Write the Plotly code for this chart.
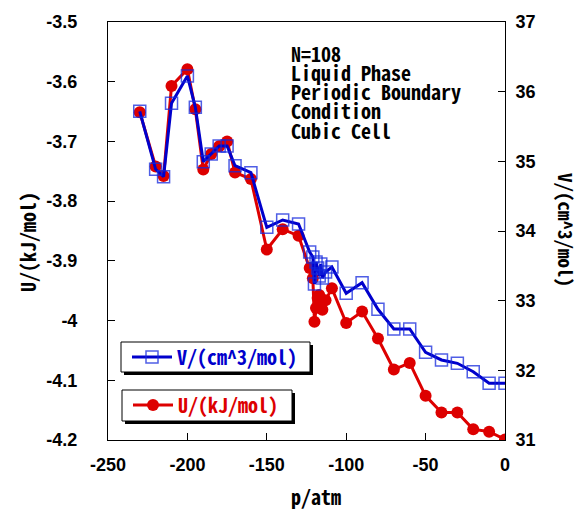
import plotly.graph_objects as go

# ---- data ----
p_atm = [-230, -220, -215, -210, -200, -195, -190, -185, -180, -175, -170, -160,
         -150, -140, -130,
         -123, -121, -120, -119, -118, -117, -116, -115, -113, -109,
         -100, -90, -80, -70, -60, -50, -40, -30, -20, -10, 0]
U_kJ = [-3.651, -3.742, -3.758, -3.607, -3.579, -3.646, -3.747, -3.721, -3.708, -3.700, -3.752, -3.763,
        -3.881, -3.847, -3.858,
        -3.912, -3.929, -4.002, -3.979, -3.962, -3.957, -3.974, -3.982, -3.966, -3.946,
        -4.004, -3.985, -4.030, -4.082, -4.071, -4.126, -4.154, -4.154, -4.182, -4.186, -4.199]
V_cm3 = [35.718, 34.886, 34.780, 35.833, 36.225, 35.776, 34.995, 35.105, 35.220, 35.220, 34.937, 34.837,
         34.053, 34.158, 34.100,
         33.699, 33.627, 33.239, 33.555, 33.469, 33.354, 33.527, 33.326, 33.412, 33.483,
         33.106, 33.258, 32.876, 32.593, 32.593, 32.259, 32.149, 32.101, 31.980, 31.814, 31.814]

x_ticks = [-250, -200, -150, -100, -50, 0]
x_ticktext = ["-250", "-200", "-150", "-100", "-50", "0"]
u_ticks = [-3.5, -3.6, -3.7, -3.8, -3.9, -4.0, -4.1, -4.2]
u_ticktext = ["-3.5", "-3.6", "-3.7", "-3.8", "-3.9", "-4", "-4.1", "-4.2"]
v_ticks = [31, 32, 33, 34, 35, 36, 37]
v_ticktext = ["31", "32", "33", "34", "35", "36", "37"]

info_lines = ["N=108", "Liquid Phase", "Periodic Boundary", "Condition", "Cubic Cell"]

# ---- layout geometry (pixels) ----
W, H = 581, 513
L, R, T, B = 108, 76, 22, 73
PW, PH = W - L - R, H - T - B

def px(x):
    return (x - L) / PW

def py(y):
    return (T + PH - y) / PH

RED = "#dd0000"
BLUE = "#0000cc"
MONO = "Noto Sans Mono CJK JP, DejaVu Sans Mono, monospace"
TICKFONT = dict(family="Liberation Sans, Arial, sans-serif", size=18, color="black", weight="bold")

fig = go.Figure()
fig.add_trace(go.Scatter(
    x=p_atm, y=U_kJ, name="U/(kJ/mol)", mode="lines+markers",
    line=dict(color=RED, width=3),
    marker=dict(symbol="circle", size=12, color=RED),
    yaxis="y", legend="legend2"))
fig.add_trace(go.Scatter(
    x=p_atm, y=V_cm3, name="V/(cm^3/mol)", mode="lines+markers",
    line=dict(color=BLUE, width=3),
    marker=dict(symbol="square-open", size=12, color="rgba(20,40,220,0.75)",
                line=dict(width=1.5, color="rgba(20,40,220,0.75)")),
    yaxis="y2", legend="legend"))

axis_common = dict(showline=True, linecolor="black", linewidth=1, ticks="inside",
                   ticklen=7, tickwidth=1, tickcolor="black", showgrid=False,
                   zeroline=False, tickfont=TICKFONT)

fig.update_layout(
    width=W, height=H,
    margin=dict(l=L, r=R, t=T, b=B),
    paper_bgcolor="white", plot_bgcolor="white",
    xaxis=dict(range=[-250, 0], tickvals=x_ticks, ticktext=x_ticktext, mirror=True,
               ticklabelstandoff=8, **axis_common),
    yaxis=dict(range=[-4.2, -3.5], tickvals=u_ticks, ticktext=u_ticktext,
               ticklabelstandoff=26, **axis_common),
    yaxis2=dict(range=[31, 37], tickvals=v_ticks, ticktext=v_ticktext, overlaying="y",
                side="right", ticklabelstandoff=6, **axis_common),
    legend=dict(x=px(127), y=py(357), xanchor="left", yanchor="middle",
                bgcolor="rgba(0,0,0,0)", borderwidth=0, itemwidth=40,
                font=dict(family=MONO, size=20, color=BLUE, weight="bold")),
    legend2=dict(x=px(128), y=py(405), xanchor="left", yanchor="middle",
                 bgcolor="rgba(0,0,0,0)", borderwidth=0, itemwidth=40,
                 font=dict(family=MONO, size=20, color=RED, weight="bold")),
    showlegend=True,
)

# legend boxes with drop shadows
for (x0, y0, x1, y1) in [(121, 342, 310, 372), (122, 390, 292, 421)]:
    fig.add_shape(type="rect", xref="paper", yref="paper", layer="above",
                  x0=px(x0 + 3), x1=px(x1 + 3), y0=py(y1 + 3), y1=py(y0 + 3),
                  fillcolor="black", line=dict(width=0))
    fig.add_shape(type="rect", xref="paper", yref="paper", layer="above",
                  x0=px(x0), x1=px(x1), y0=py(y1), y1=py(y0),
                  fillcolor="white", line=dict(color="black", width=1))

# info text block
for i, line in enumerate(info_lines):
    fig.add_annotation(text=line, xref="paper", yref="paper", x=px(289), y=py(53 + 19.3 * i),
                       xanchor="left", yanchor="middle", showarrow=False,
                       font=dict(family=MONO, size=20, color="black", weight="bold"))

# axis titles
fig.add_annotation(text="p/atm", xref="paper", yref="paper", x=px(316), y=py(497),
                   xanchor="center", yanchor="middle", showarrow=False,
                   font=dict(family=MONO, size=20, color="black", weight="bold"))
fig.add_annotation(text="U/(kJ/mol)", xref="paper", yref="paper", x=px(27), y=py(242),
                   xanchor="center", yanchor="middle", showarrow=False, textangle=-90,
                   font=dict(family=MONO, size=20, color="black", weight="bold"))
fig.add_annotation(text="V/(cm^3/mol)", xref="paper", yref="paper", x=px(567), y=py(230),
                   xanchor="center", yanchor="middle", showarrow=False, textangle=90,
                   font=dict(family=MONO, size=19, color="black", weight="bold"))

fig.write_html("out.html")
